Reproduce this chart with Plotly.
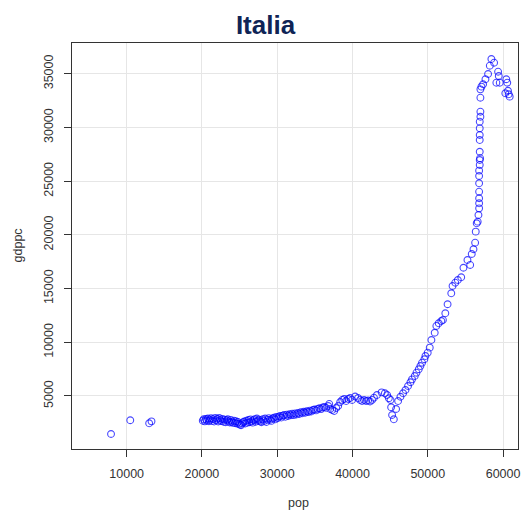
import plotly.graph_objects as go

# Italy: population (thousands) vs GDP per capita
pop = [
    7925, 10480, 12990, 13300,
    20110, 20230, 20380, 20520, 20640, 20790, 20930, 21060, 21210, 21340,
    21480, 21620, 21760, 21890, 22030, 22170, 22310, 22440, 22580, 22720,
    22860, 23000, 23150, 23290, 23430, 23560, 23700, 23840, 23970, 24110,
    24250, 24390, 24520, 24660, 24800, 24930, 25070, 25200, 25340, 25480,
    25610, 25760, 25900, 26040, 26180, 26320, 26450, 26600, 26740, 26880,
    27010, 27150, 27300, 27450, 27600, 27760, 27910, 28080, 28240, 28400,
    28560, 28730, 28890, 29050, 29220, 29380, 29550, 29710, 29880, 30050,
    30220, 30390, 30560, 30740, 30910, 31090, 31270, 31450, 31630, 31810,
    32000, 32180, 32370, 32560, 32750, 32940, 33130, 33330, 33520, 33720,
    33920, 34120, 34330, 34530, 34740, 34950, 35160, 35380, 35600, 35820,
    36040, 36270, 36500,
    36780, 36910, 37040, 37310, 37570, 37840, 38100, 38370, 38630, 38900,
    39160, 39420, 39690, 39950, 40350, 40740, 41010, 41270, 41540, 41800,
    42070, 42330, 42600, 42850, 43250, 43870, 44300, 44600, 44830, 45050,
    45130, 45260, 45490, 45790,
    46060, 46370, 46720, 47040, 47380, 47700, 47910, 48270, 48500, 48800,
    49020, 49240, 49550, 49690, 49990, 50260, 50480, 50920, 51140, 51450,
    51800, 52010, 52330, 52630, 53120, 53290, 53650, 53990, 54440, 54740,
    55270, 55630, 55840, 56070, 56290, 56370, 56500, 56630, 56730, 56820,
    56820, 56820, 56820, 56820, 56820, 56820, 56900, 56900, 56950, 56900,
    56900, 56900, 56900, 56900, 56990, 56990, 56990, 56990,
    57130, 57350, 57660, 58010, 58240, 58450, 58810, 59340, 59430, 59110,
    59560, 60430, 60560, 60300, 60650, 60750, 60880,
]

gdppc = [
    1460, 2740, 2460, 2640,
    2700, 2830, 2640, 2860, 2720, 2900, 2650, 2780, 2930, 2680,
    2850, 2620, 2960, 2740, 2880, 2630, 2950, 2770, 2660, 2870,
    2600, 2800, 2560, 2740, 2830, 2620, 2530, 2770, 2600, 2500,
    2700, 2480, 2650, 2430, 2580, 2400, 2330, 2280, 2450, 2560,
    2620, 2440, 2700, 2520, 2760, 2560, 2820, 2640, 2520, 2750,
    2850, 2600, 2900, 2700, 2800, 2640, 2560, 2830, 2680, 2900,
    2580, 2780, 2940, 2790, 2680, 2900, 2980, 2820, 3060, 2930,
    3080, 3140, 2990, 3170, 3230, 3060, 3260, 3140, 3300, 3200,
    3350, 3220, 3380, 3280, 3420, 3330, 3480, 3390, 3530, 3440,
    3580, 3500, 3640, 3560, 3700, 3740, 3660, 3800, 3860, 3780,
    3930, 3980, 3890,
    4070, 4260, 3790, 3700, 3600, 3880, 4070, 4440, 4630, 4720,
    4530, 4720, 4810, 4630, 4950, 4810, 4630, 4530, 4630, 4530,
    4580, 4490, 4630, 4840, 5090, 5340, 5250, 5090, 4790, 4630,
    3950, 3230, 2830, 3790,
    4530, 4930, 5250, 5560, 5930, 6280, 6550, 6860, 7170, 7490,
    7790, 8100, 8420, 8720, 9030, 9500, 10210, 10890, 11520, 11770,
    11980, 12080, 12700, 13540, 14560, 15240, 15550, 15800, 16050, 16940,
    17660, 17200, 18220, 18660, 19270, 20300, 21080, 21230, 21850, 22470,
    22940, 23410, 24020, 24800, 25480, 25980, 26510, 26970, 27140, 27740,
    28830, 29300, 29920, 30540, 31000, 31470, 32770, 33550,
    33800, 34020, 34490, 34980, 35750, 36370, 36030, 35190, 34790, 34170,
    34170, 34490, 34170, 33180, 33420, 33090, 32870,
]

x_ticks = [10000, 20000, 30000, 40000, 50000, 60000]
y_ticks = [5000, 10000, 15000, 20000, 25000, 30000, 35000]

font_family = "Liberation Sans, Arial, sans-serif"
tick_color = "#333333"

fig = go.Figure(
    go.Scatter(
        x=pop,
        y=gdppc,
        mode="markers",
        marker=dict(
            symbol="circle-open",
            size=6.8,
            color="rgba(0,0,255,0.72)",
            line=dict(width=1.1, color="rgba(0,0,255,0.72)"),
        ),
        showlegend=False,
    )
)

axis_common = dict(
    showline=True,
    linecolor="#333333",
    linewidth=1.3,
    mirror=True,
    ticks="outside",
    ticklen=7,
    tickwidth=1,
    tickcolor="#333333",
    showgrid=True,
    gridcolor="#e6e6e6",
    gridwidth=1,
    zeroline=False,
    tickfont=dict(family=font_family, size=12.5, color=tick_color),
)

fig.update_xaxes(
    range=[2741, 61984],
    tickvals=x_ticks,
    ticktext=[str(v) for v in x_ticks],
    ticklabelstandoff=6,
    **axis_common,
)
fig.update_yaxes(
    range=[65, 37864],
    tickvals=y_ticks,
    ticktext=[str(v) for v in y_ticks],
    tickangle=-90,
    ticklabelstandoff=6,
    **axis_common,
)

fig.update_layout(
    width=531,
    height=517,
    margin=dict(l=72, r=11, t=43, b=68),
    plot_bgcolor="white",
    paper_bgcolor="white",
    title=dict(
        text="<b>Italia</b>",
        x=0.5,
        xref="container",
        xanchor="center",
        y=0.952,
        yref="container",
        yanchor="middle",
        font=dict(family=font_family, size=26, color="#0f2456"),
    ),
    annotations=[
        dict(
            text="pop", x=0.507, y=-0.133, xref="paper", yref="paper",
            xanchor="center", yanchor="middle", showarrow=False,
            font=dict(family=font_family, size=12.5, color=tick_color),
        ),
        dict(
            text="gdppc", x=-0.1205, y=0.502, xref="paper", yref="paper",
            xanchor="center", yanchor="middle", showarrow=False, textangle=-90,
            font=dict(family=font_family, size=12.5, color=tick_color),
        ),
    ],
)

fig.write_html("out.html")
